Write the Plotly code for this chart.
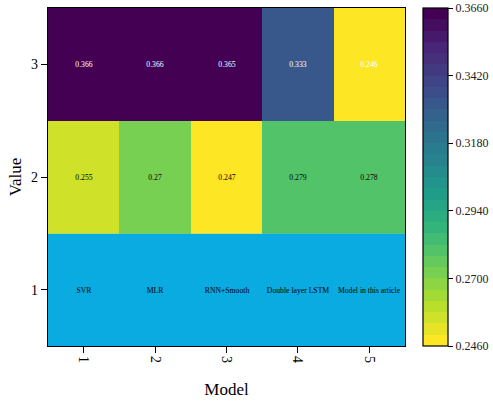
import plotly.graph_objects as go
from plotly.colors import sample_colorscale

models = [1, 2, 3, 4, 5]
model_names = ["SVR", "MLR", "RNN+Smooth", "Double layer LSTM", "Model in this article"]
row3_values = [0.366, 0.366, 0.365, 0.333, 0.246]
row2_values = [0.255, 0.27, 0.247, 0.279, 0.278]
row1_color = "#0aabe1"
cb_ticks = [0.2460, 0.2700, 0.2940, 0.3180, 0.3420, 0.3660]
zmin, zmax = 0.246, 0.366
nbands = 30

# discrete reversed viridis
cols = sample_colorscale("Viridis", [1 - i / (nbands - 1) for i in range(nbands)])
cscale = []
for i, c in enumerate(cols):
    cscale.append([i / nbands, c])
    cscale.append([(i + 1) / nbands, c])

font = "Liberation Serif, Times New Roman, serif"
cell_size = 7.7

fig = go.Figure()
fig.add_trace(go.Heatmap(
    x=models, y=[1], z=[[1] * 5], text=[model_names], texttemplate="%{text}",
    textfont=dict(family=font, size=cell_size, color="black"),
    zmin=0, zmax=2,
    colorscale=[[0, row1_color], [1, row1_color]], showscale=False, hoverinfo="skip"))
fig.add_trace(go.Heatmap(
    x=models, y=[2], z=[row2_values], text=[[str(v) for v in row2_values]],
    texttemplate="%{text}", textfont=dict(family=font, size=cell_size, color="black"),
    coloraxis="coloraxis"))
fig.add_trace(go.Heatmap(
    x=models, y=[3], z=[row3_values], text=[[str(v) for v in row3_values]],
    texttemplate="%{text}", textfont=dict(family=font, size=cell_size, color="white"),
    coloraxis="coloraxis"))

fig.update_layout(
    width=493, height=401,
    margin=dict(l=48, r=88, t=8, b=55, autoexpand=False),
    plot_bgcolor="white", paper_bgcolor="white",
    font=dict(family=font, color="black"),
    coloraxis=dict(
        colorscale=cscale, cmin=zmin, cmax=zmax,
        colorbar=dict(
            x=1.05, xanchor="left", xpad=0, y=0.5, yanchor="middle",
            len=1.0, lenmode="fraction", ypad=0, thickness=25,
            outlinecolor="black", outlinewidth=1.2,
            tickmode="array",
            tickvals=cb_ticks, ticktext=[f"{v:.4f}" for v in cb_ticks],
            ticks="outside", ticklen=5, tickcolor="black",
            tickfont=dict(family=font, size=12, color="#222"),
        ),
    ),
    xaxis=dict(
        range=[0.5, 5.5], tickvals=models, ticktext=[str(m) for m in models],
        tickangle=90, ticks="outside", ticklen=6, tickcolor="black",
        showline=True, linecolor="black", linewidth=1.2, mirror=True,
        showgrid=False, zeroline=False, automargin=False,
        tickfont=dict(family=font, size=14),
        title=dict(text="Model", font=dict(family=font, size=17), standoff=21),
    ),
    yaxis=dict(
        range=[0.5, 3.5], tickvals=[1, 2, 3], ticks="outside", ticklen=6,
        tickcolor="black", showline=True, linecolor="black", linewidth=1.2,
        mirror=True, showgrid=False, zeroline=False, automargin=False,
        tickfont=dict(family=font, size=14),
        title=dict(text="Value", font=dict(family=font, size=17), standoff=5),
    ),
)

fig.write_html("out.html", config={"displayModeBar": False},
               post_script="document.body.style.margin='0';")
